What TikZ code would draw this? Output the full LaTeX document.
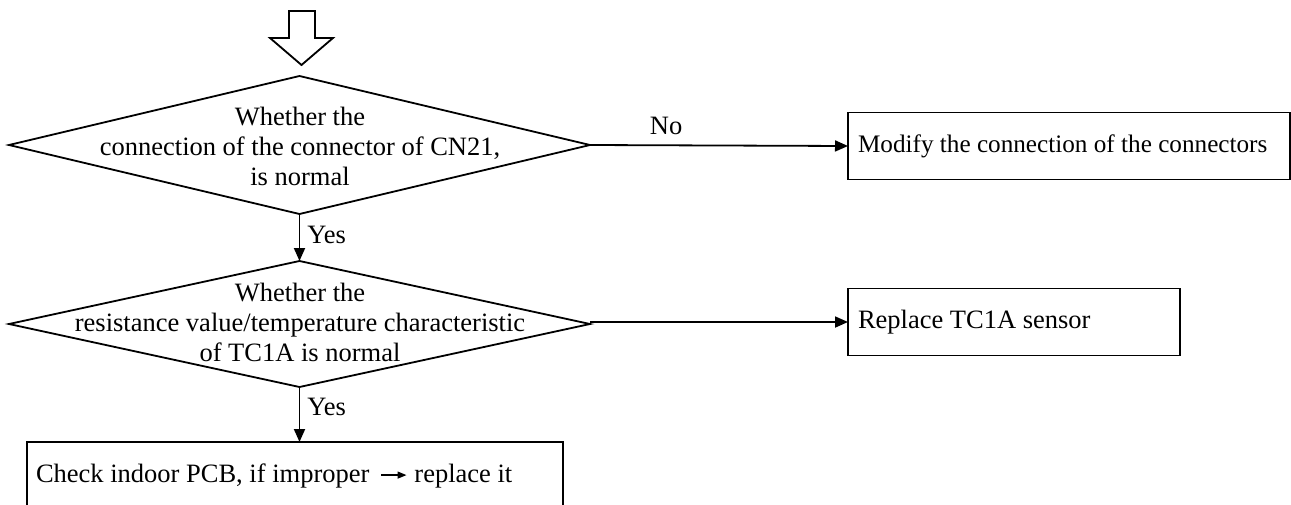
\documentclass[tikz,border=0pt]{standalone}
\usepackage{fontspec}
\setmainfont{Liberation Serif}
\usetikzlibrary{shapes.geometric,arrows.meta}

\tikzset{
  base/.style={line width=1.8pt, draw=black},
  decision/.style={base, shape=diamond, inner sep=0pt, outer sep=0pt},
  dtext/.style={align=center, inner sep=0pt, font=\fontsize{26.5}{30}\selectfont},
  actionbox/.style={base, rectangle, inner ysep=0pt, inner xsep=9pt, outer sep=0pt,
    align=flush left, font=\fontsize{26.5}{30}\selectfont},
  flow/.style={line width=1.8pt, -{Triangle[length=13pt,width=11pt]}},
  lbl/.style={inner sep=2pt, font=\fontsize{26.5}{30}\selectfont},
  hollow/.style={line width=1.8pt, draw=black, fill=white, line join=miter}
}

\begin{document}
\begin{tikzpicture}[x=1pt,y=-1pt]
  \useasboundingbox (0,0) rectangle (1291,504);
  \clip (0,0) rectangle (1291,504);

  % entry marker: hollow down arrow
  \draw[hollow] (289,11) -- (315,11) -- (315,38) -- (333,38) -- (301.5,65)
    -- (270,38) -- (289,38) -- cycle;

  % first decision
  \node[decision, minimum width=581pt, minimum height=138pt] (d1) at (299.5,145) {};
  \node[dtext] (t1) at (300,146) {Whether the\\connection of the connector of CN21,\\is normal};

  % second decision
  \node[decision, minimum width=581pt, minimum height=126pt] (d2) at (299.5,324) {};
  \node[dtext] (t2) at (300,322) {Whether the\\resistance value/temperature characteristic\\of TC1A is normal};

  % action boxes
  \node[actionbox, anchor=west, minimum width=442pt, minimum height=67pt,
        text width=422pt, inner xsep=10pt, font=\fontsize{25.2}{30}\selectfont]
        (b1) at (848,146) {Modify the connection of the connectors};
  \node[actionbox, anchor=west, minimum width=332pt, minimum height=67pt,
        text width=312pt, inner xsep=10pt] (b2) at (848,322) {Replace TC1A sensor};
  \node[actionbox, anchor=north west, minimum width=536pt, minimum height=68pt,
        text width=518pt] (b3) at (27,442) {Check indoor PCB, if improper
        \tikz[baseline]{\path (0,0) -- (1.2em,0);
          \draw[line width=1.3pt,-{Triangle[length=9pt,width=7pt]}] (0.2em,0.28em) -- (1.15em,0.28em);}
        replace it};

  % connectors
  \draw[flow] (d1.east) -- node[lbl, pos=0.295, above=8pt] {No} (b1.west);
  \draw[flow] (d2.east |- b2.west) -- (b2.west);
  \draw[flow] (d1.south) -- node[lbl, pos=0.45, right=5pt] {Yes} (d2.north);
  \draw[flow] (d2.south) -- node[lbl, pos=0.36, right=5pt] {Yes} (d2.south |- b3.north);
\end{tikzpicture}
\end{document}
